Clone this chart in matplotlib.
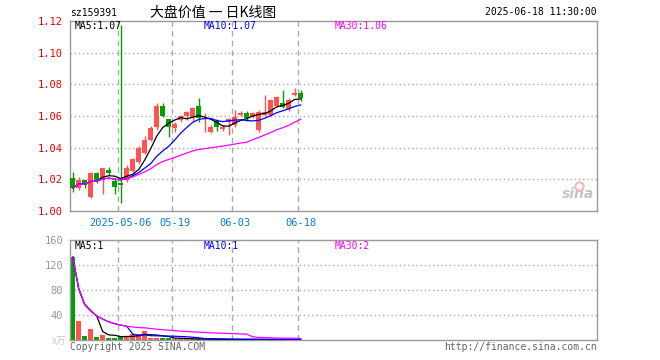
import numpy as np
import pandas as pd
import matplotlib
matplotlib.use("Agg")
import matplotlib.pyplot as plt

plt.rcParams['font.family'] = ['DejaVu Sans Mono', 'Noto Sans CJK SC']

code = 'sz159391'
title = '大盘价值 一 日K线图'
stamp = '2025-06-18 11:30:00'

# daily k-line, listing day first, last bar 06-18
opens  = [1.0209, 1.0143, 1.0196, 1.0087, 1.0242, 1.0196, 1.0259, 1.0192, 1.0175, 1.0196,
          1.0253, 1.0312, 1.0365, 1.0449, 1.0533, 1.0666, 1.0580, 1.0523, 1.0575, 1.0600,
          1.0587, 1.0660, 1.0497, 1.0497, 1.0571, 1.0518, 1.0564, 1.0543, 1.0607, 1.0617,
          1.0593, 1.0512, 1.0607, 1.0607, 1.0664, 1.0680, 1.0645, 1.0733, 1.0744]
highs  = [1.0245, 1.0215, 1.0196, 1.0246, 1.0246, 1.0272, 1.0280, 1.0209, 1.1175, 1.0290,
          1.0335, 1.0410, 1.0475, 1.0535, 1.0680, 1.0685, 1.0580, 1.0560, 1.0605, 1.0630,
          1.0660, 1.0712, 1.0621, 1.0545, 1.0583, 1.0545, 1.0585, 1.0638, 1.0630, 1.0630,
          1.0625, 1.0638, 1.0733, 1.0705, 1.0725, 1.0765, 1.0712, 1.0776, 1.0765]
lows   = [1.0122, 1.0133, 1.0145, 1.0082, 1.0177, 1.0106, 1.0228, 1.0107, 1.0052, 1.0183,
          1.0245, 1.0300, 1.0360, 1.0440, 1.0510, 1.0596, 1.0470, 1.0500, 1.0565, 1.0575,
          1.0570, 1.0565, 1.0497, 1.0490, 1.0505, 1.0505, 1.0480, 1.0530, 1.0600, 1.0570,
          1.0585, 1.0501, 1.0600, 1.0600, 1.0660, 1.0650, 1.0630, 1.0724, 1.0692]
closes = [1.0145, 1.0196, 1.0164, 1.0242, 1.0196, 1.0270, 1.0242, 1.0150, 1.0164, 1.0272,
          1.0329, 1.0396, 1.0449, 1.0523, 1.0666, 1.0600, 1.0533, 1.0550, 1.0600, 1.0628,
          1.0650, 1.0587, 1.0500, 1.0533, 1.0533, 1.0533, 1.0580, 1.0596, 1.0621, 1.0586,
          1.0618, 1.0628, 1.0628, 1.0698, 1.0719, 1.0656, 1.0702, 1.0748, 1.0716]
# volume, 万手
vols   = [133, 31, 6.5, 17, 5, 8, 4, 4, 6, 6,
          9, 9, 15, 3, 3.5, 3.5, 3, 2, 2, 1.5,
          1.5, 1.5, 1.5, 1.2, 1.2, 1, 1, 1, 0.8, 1,
          1, 0.8, 1, 1.2, 1, 1, 0.8, 0.8, 0.8]

tick_idx = [8, 17, 27, 38]
tick_lab = ['2025-05-06', '05-19', '06-03', '06-18']
price_ticks = [1.00, 1.02, 1.04, 1.06, 1.08, 1.10, 1.12]
vol_ticks = [40, 80, 120, 160]

ma_lab_price = ['MA5:1.07', 'MA10:1.07', 'MA30:1.06']
ma_lab_vol = ['MA5:1', 'MA10:1', 'MA30:2']

RED = '#ff5252'
GREEN = '#00a000'
GRID = '#aaaaaa'
BORDER = '#999999'
ma_cols = ['#000000', '#0000ff', '#ff00ff']
FS = 7

df = pd.DataFrame({'o': opens, 'h': highs, 'l': lows, 'c': closes, 'v': vols})
x = np.arange(len(df))
up = df.c >= df.o
cols = np.where(up, RED, GREEN)

W, H = 660, 360
fig = plt.figure(figsize=(6.6, 3.6), dpi=100)
ax = fig.add_axes([70 / W, 1 - 211 / H, 527 / W, 190 / H])
axv = fig.add_axes([70 / W, 1 - 340 / H, 527 / W, 100 / H])

xlim = (-0.45, -0.45 + 527 / 6)

for a in (ax, axv):
    a.set_xlim(*xlim)
    for s in a.spines.values():
        s.set_color(BORDER)
        s.set_linewidth(1)
    a.tick_params(length=0)
    for i in tick_idx:
        a.axvline(i - 0.4, color=GRID, lw=1, ls=(0, (4, 3)), zorder=0)

# price panel
ax.set_ylim(1.00, 1.12)
for p in price_ticks[1:-1]:
    ax.axhline(p, color=GRID, lw=1, ls=(0, (1, 2)), zorder=0)

ax.vlines(x, df.l, df.h, colors=cols, lw=1, zorder=2)
body = np.maximum((df.c - df.o).abs(), 0.0004)
ax.bar(x, body, bottom=np.minimum(df.o, df.c), width=0.8, color=cols, lw=0, zorder=3)

for w, c in zip([5, 10, 30], ma_cols):
    ax.plot(x, df.c.rolling(w, min_periods=1).mean(), color=c, lw=0.9, zorder=4)

ax.set_yticks(price_ticks)
ax.set_yticklabels(['%.2f' % p for p in price_ticks], color='#ee0000', fontsize=FS + 0.5)
ax.set_xticks(tick_idx)
ax.set_xticklabels(tick_lab, color='#0a7bd0', fontsize=FS + 0.5)
ax.tick_params(axis='x', pad=5)
ax.tick_params(axis='y', pad=5)

for lab, c, px in zip(ma_lab_price, ma_cols, [75, 204, 335]):
    fig.text(px / W, 1 - 26 / H, lab, color=c, fontsize=FS, va='center')

# sina watermark
ax.text(0.995, 0.05, 'sina', transform=ax.transAxes, fontsize=10, style='italic', weight='bold',
        ha='right', va='bottom', color='#c4c4c4', family='DejaVu Sans', zorder=1)
ax.plot([0.965], [0.13], transform=ax.transAxes, marker='o', ms=6, mfc='none',
        mec='#f4b8b8', mew=1.5, zorder=1)

# volume panel
axv.set_ylim(0, 160)
for v in vol_ticks[:-1]:
    axv.axhline(v, color=GRID, lw=1, ls=(0, (1, 2)), zorder=0)
axv.bar(x, df.v, width=0.8, color=cols, lw=0, zorder=2)
for w, c in zip([5, 10, 30], ma_cols):
    axv.plot(x, df.v.rolling(w, min_periods=1).mean(), color=c, lw=0.9, zorder=3)
axv.set_yticks(vol_ticks)
axv.set_yticklabels([str(v) for v in vol_ticks], color='#999999', fontsize=FS + 0.5)
axv.set_xticks([])
axv.tick_params(axis='y', pad=5)

for lab, c, px in zip(ma_lab_vol, ma_cols, [75, 204, 335]):
    fig.text(px / W, 1 - 246 / H, lab, color=c, fontsize=FS, va='center')

# header / footer texts
fig.text(70 / W, 1 - 13 / H, code, fontsize=FS, va='center')
fig.text(150 / W, 1 - 13 / H, title, fontsize=10, va='center',
         family=['Noto Sans CJK SC', 'DejaVu Sans'])
fig.text(597 / W, 1 - 12 / H, stamp, fontsize=FS, va='center', ha='right')
fig.text(70 / W, 1 - 347 / H, 'Copyright 2025 SINA.COM', fontsize=FS, va='center',
         color='#666666')
fig.text(597 / W, 1 - 347 / H, 'http://finance.sina.com.cn', fontsize=FS, va='center',
         ha='right', color='#666666')
fig.text(66 / W, 1 - 341 / H, 'x万', fontsize=7, va='center', ha='right', color='#c8c8c8',
         family=['Noto Sans CJK SC', 'DejaVu Sans'])

fig.savefig('out.png', dpi=100)
